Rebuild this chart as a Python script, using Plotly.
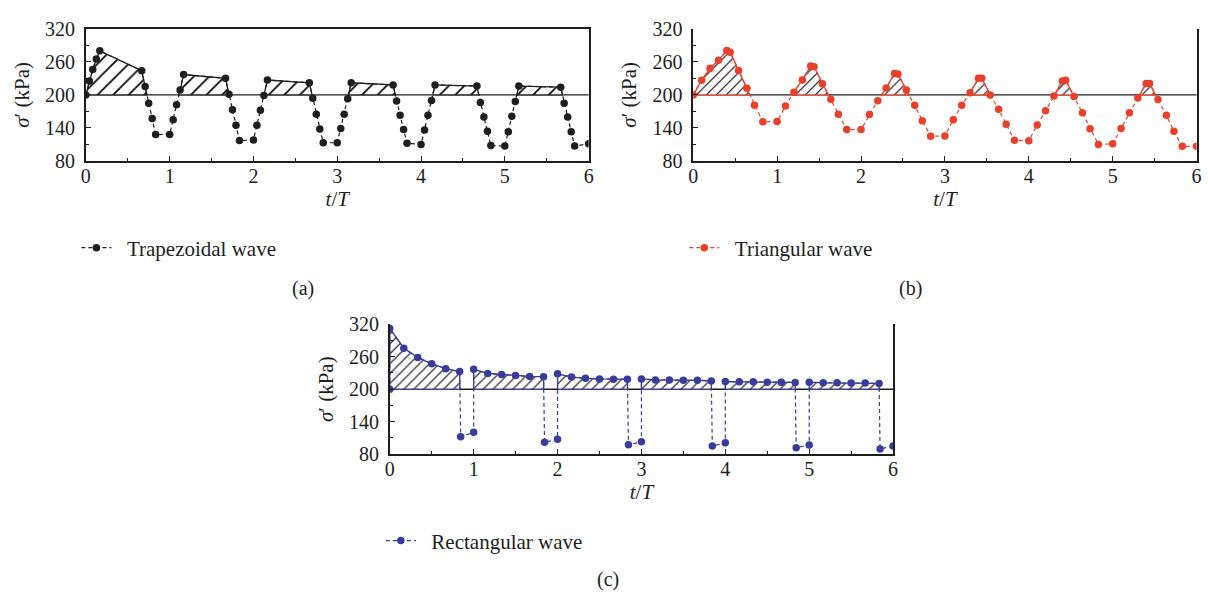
import plotly.graph_objects as go

BASE = 200

# ---------------- Data ----------------
# (a) Trapezoidal wave
trap_t = [0, 0.042, 0.083, 0.125, 0.167, 0.667, 0.708, 0.75, 0.792, 0.833,
          1.0, 1.042, 1.083, 1.125, 1.167, 1.667, 1.708, 1.75, 1.792, 1.833,
          2.0, 2.042, 2.083, 2.125, 2.167, 2.667, 2.708, 2.75, 2.792, 2.833,
          3.0, 3.042, 3.083, 3.125, 3.167, 3.667, 3.708, 3.75, 3.792, 3.833,
          4.0, 4.042, 4.083, 4.125, 4.167, 4.667, 4.708, 4.75, 4.792, 4.833,
          5.0, 5.042, 5.083, 5.125, 5.167, 5.667, 5.708, 5.75, 5.792, 5.833,
          6.0]
trap_s = [200, 225, 246, 265, 280, 244, 215, 185, 157, 128,
          128, 155, 182, 209, 237, 230, 201, 173, 145, 117,
          118, 145, 172, 199, 227, 222, 194, 165, 138, 113,
          113, 139, 165, 193, 222, 218, 189, 163, 137, 112,
          110, 136, 163, 190, 218, 216, 186, 160, 134, 108,
          107, 133, 161, 188, 216, 214, 185, 160, 133, 107,
          111]

# (b) Triangular wave
tri_t = [0, 0.1, 0.2, 0.3, 0.4, 0.44, 0.54, 0.64, 0.73, 0.83,
         1.0, 1.1, 1.2, 1.3, 1.4, 1.44, 1.54, 1.64, 1.73, 1.83,
         2.0, 2.1, 2.2, 2.3, 2.4, 2.44, 2.54, 2.64, 2.73, 2.83,
         3.0, 3.1, 3.2, 3.3, 3.4, 3.44, 3.54, 3.64, 3.73, 3.83,
         4.0, 4.1, 4.2, 4.3, 4.4, 4.44, 4.54, 4.64, 4.73, 4.83,
         5.0, 5.1, 5.2, 5.3, 5.4, 5.44, 5.54, 5.64, 5.73, 5.83,
         6.0]
tri_s = [200, 226.5, 248.5, 262.7, 280.5, 277.5, 244.5, 212, 181, 151,
         151.5, 180, 205, 227, 252.5, 251, 220, 192, 165, 137,
         137, 164.5, 189.5, 212.5, 239, 238, 209, 181, 153, 125,
         125.5, 155, 181, 204, 230, 230, 200, 174, 146.5, 117.5,
         116.5, 145.5, 171, 198, 225, 226.5, 197, 167.5, 138.5, 110,
         111, 139, 167.5, 194.5, 220.7, 220.7, 191.5, 163, 134, 106.5,
         106.5]

# (c) Rectangular wave
rect_t = [0, 0, 0.167, 0.333, 0.5, 0.667, 0.833, 0.845,
          1.0, 1.0, 1.167, 1.333, 1.5, 1.667, 1.833, 1.845,
          2.0, 2.0, 2.167, 2.333, 2.5, 2.667, 2.833, 2.845,
          3.0, 3.0, 3.167, 3.333, 3.5, 3.667, 3.833, 3.845,
          4.0, 4.0, 4.167, 4.333, 4.5, 4.667, 4.833, 4.845,
          5.0, 5.0, 5.167, 5.333, 5.5, 5.667, 5.833, 5.845,
          6.0]
rect_s = [200, 312, 275.7, 258.6, 246.8, 237.9, 232.5, 112,
          120.5, 236.7, 229, 227, 225.4, 223.6, 223, 102,
          107.5, 228.4, 222.4, 220, 219, 218.5, 218.3, 97.4,
          102.8, 218.9, 217, 217, 216.5, 216.5, 215.3, 95,
          101, 214.2, 213.6, 213.6, 213, 213, 212.4, 92,
          96.8, 213, 211.8, 211.8, 211.2, 211.2, 210.7, 89.8,
          95]

x_ticks = [0, 1, 2, 3, 4, 5, 6]
y_ticks = [80, 140, 200, 260, 320]

FONT = "Liberation Serif, Times New Roman, serif"
BLACK = "#1e1e1e"
RED = "#e8402c"
BLUE = "#3b3b9c"


def above_polys(xs, ys, base):
    """Polygons of the parts of a polyline lying above base (None separated)."""
    px, py = [], []
    cur = None
    for i in range(len(xs)):
        xi, yi = xs[i], ys[i]
        if i > 0:
            x0, y0 = xs[i - 1], ys[i - 1]
            if (y0 < base) != (yi < base):
                xc = x0 + (base - y0) * (xi - x0) / (yi - y0)
                if cur is None:
                    cur = [(xc, base)]
                else:
                    cur.append((xc, base))
                    px += [p[0] for p in cur] + [cur[0][0], None]
                    py += [p[1] for p in cur] + [base, None]
                    cur = None
        if yi >= base:
            if cur is None:
                cur = []
            cur.append((xi, yi))
    if cur:
        cur.append((cur[-1][0], base))
        px += [p[0] for p in cur] + [cur[0][0], None]
        py += [p[1] for p in cur] + [base, None]
    return px, py


fig = go.Figure()

panels = [
    ("x", "y", trap_t, trap_s, BLACK, "Trapezoidal wave", "legend", 11),
    ("x2", "y2", tri_t, tri_s, RED, "Triangular wave", "legend2", 7),
    ("x3", "y3", rect_t, rect_s, BLUE, "Rectangular wave", "legend3", 7),
]

for xa, ya, t, s, col, name, leg, hsize in panels:
    ppx, ppy = above_polys(t, s, BASE)
    fig.add_trace(go.Scatter(
        x=ppx, y=ppy, xaxis=xa, yaxis=ya, mode="lines", fill="toself",
        line=dict(color=col, width=1.3), fillcolor="white",
        fillpattern=dict(shape="/", fgcolor="#000000", bgcolor="white",
                         fgopacity=1, fillmode="replace",
                         size=hsize, solidity=0.15),
        showlegend=False, hoverinfo="skip"))
    fig.add_trace(go.Scatter(
        x=t, y=s, xaxis=xa, yaxis=ya, mode="lines+markers",
        name="\u2002" + name, legend=leg,
        line=dict(color=col, width=1.2, dash="4px,3px"),
        marker=dict(color=col, size=7.5)))
    fig.add_shape(type="line", xref=f"{xa} domain", yref=ya,
                  x0=0, x1=1, y0=BASE, y1=BASE,
                  line=dict(color=BLACK, width=1.4), layer="below")

axis_common = dict(
    showline=True, linecolor=BLACK, linewidth=1.5,
    ticks="inside", ticklen=5, tickwidth=1.2, tickcolor=BLACK,
    showgrid=False, zeroline=False,
    tickfont=dict(family=FONT, size=20, color=BLACK),
)
xaxis_common = dict(axis_common, range=[0, 6], tickvals=x_ticks,
                    minor=dict(ticks="inside", ticklen=3, dtick=0.5, tick0=0,
                               tickcolor=BLACK, tickwidth=1.2),
                    ticklabelstandoff=-4,
                    title=dict(text="<i>t</i>/<i>T</i>", standoff=4,
                               font=dict(family=FONT, size=21, color=BLACK)))
yaxis_common = dict(axis_common, range=[80, 320], tickvals=y_ticks,
                    minor=dict(ticks="inside", ticklen=3, dtick=30, tick0=80,
                               tickcolor=BLACK, tickwidth=1.2),
                    ticklabelstandoff=5,
                    title=dict(text="<i>σ</i>′ (kPa)", standoff=10,
                               font=dict(family=FONT, size=21, color=BLACK)))

W, H = 1208, 603
top_ab, bot_ab = 1 - 18.5 / H, 1 - 155.6 / H
top_c, bot_c = 1 - 325 / H, 1 - 460 / H

leg_font = dict(family=FONT, size=21, color=BLACK)
leg_common = dict(xanchor="left", yanchor="middle", font=leg_font,
                  bgcolor="rgba(0,0,0,0)", itemwidth=30)
fig.update_layout(
    width=W, height=H, margin=dict(l=0, r=0, t=0, b=0),
    paper_bgcolor="white", plot_bgcolor="white",
    font=dict(family=FONT, size=20, color=BLACK),
    xaxis=dict(xaxis_common, domain=[81.5 / W, 588.5 / W], anchor="y", mirror=True),
    yaxis=dict(yaxis_common, domain=[bot_ab, top_ab], anchor="x", mirror=True),
    xaxis2=dict(xaxis_common, domain=[694 / W, 1201.5 / W], anchor="y2"),
    yaxis2=dict(yaxis_common, domain=[bot_ab, top_ab], anchor="x2", mirror=True),
    xaxis3=dict(xaxis_common, domain=[388 / W, 895.5 / W], anchor="y3"),
    yaxis3=dict(yaxis_common, domain=[bot_c, top_c], anchor="x3", mirror=True),
    legend=dict(leg_common, x=72 / W, y=1 - 246 / H),
    legend2=dict(leg_common, x=685 / W, y=1 - 246 / H),
    legend3=dict(leg_common, x=379 / W, y=1 - 550 / H),
)

for txt, xp, yp in [("(a)", 300, 288), ("(b)", 913, 288), ("(c)", 608, 590)]:
    fig.add_annotation(text=txt, x=xp / W, y=1 - yp / H, xref="paper", yref="paper",
                       showarrow=False, xanchor="center", yanchor="middle",
                       font=dict(family=FONT, size=20, color=BLACK))

fig.write_html("out.html")
